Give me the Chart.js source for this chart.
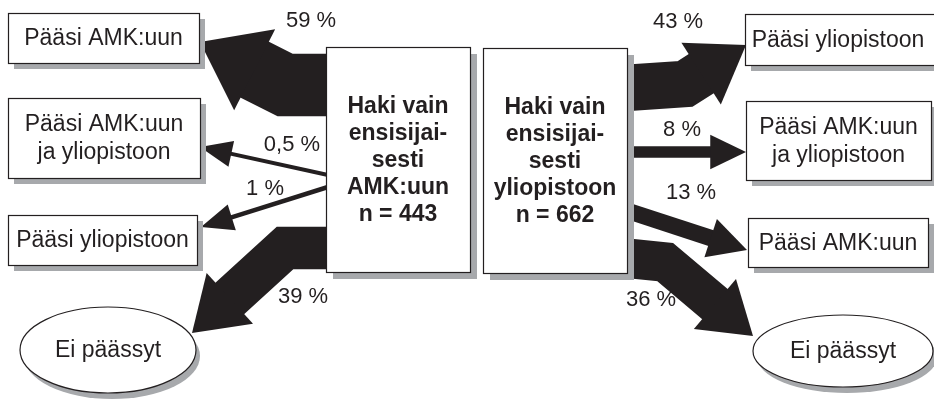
<!DOCTYPE html>
<html>
  <head>
    <script src="https://cdn.jsdelivr.net/npm/chart.js@4/dist/chart.umd.min.js"></script>
    <style>
      body { margin: 0; background: #fff; }
    </style>
  </head>
  <body>
    <canvas id="myChart" width="934" height="406"></canvas>

    <script>
      // Data
      var groups = ["Haki vain\nensisijai-\nsesti\nAMK:uun", "Haki vain\nensisijai-\nsesti\nyliopistoon"];
      var groupN = [443, 662];
      var leftOutcomes = ["Pääsi AMK:uun", "Pääsi AMK:uun\nja yliopistoon", "Pääsi yliopistoon", "Ei päässyt"];
      var leftShares = [59, 0.5, 1, 39];
      var rightOutcomes = ["Pääsi yliopistoon", "Pääsi AMK:uun\nja yliopistoon", "Pääsi AMK:uun", "Ei päässyt"];
      var rightShares = [43, 8, 13, 36];

      // Layout (in axis units, 0..934 x 0..406)
      var groupBoxes = [
        { x1: 326, y1: 47, x2: 470, y2: 272 },
        { x1: 483, y1: 48, x2: 627, y2: 273 },
      ];
      var leftNodes = [
        { x1: 8, y1: 13, x2: 199, y2: 63 },
        { x1: 8, y1: 98, x2: 200, y2: 178 },
        { x1: 8, y1: 215, x2: 197, y2: 265 },
        { cx: 108, cy: 350, rx: 88, ry: 43 },
      ];
      var rightNodes = [
        { x1: 745, y1: 14, x2: 940, y2: 65 },
        { x1: 746, y1: 101, x2: 931, y2: 180 },
        { x1: 748, y1: 218, x2: 928, y2: 267 },
        { cx: 843, cy: 351, rx: 90, ry: 36 },
      ];
      var leftPaths = [
        [[328, 85], [285, 85], [200, 42]],
        [[328, 175], [200, 147]],
        [[328, 187], [201, 227]],
        [[328, 248], [285, 248], [192, 333]],
      ];
      var rightPaths = [
        [[625, 88], [685, 84], [746, 45]],
        [[625, 152], [746, 152]],
        [[625, 210], [747, 250]],
        [[625, 258], [665, 262], [753, 336]],
      ];
      var leftLabelPos = [[311, 21], [292, 145], [265, 189], [303, 297]];
      var rightLabelPos = [[678, 22], [682, 130], [691, 193], [651, 300]];

      var INK = "#231f20";
      var SHADOW = "#a7a9ac";
      var FONT = "'Liberation Sans', Arial, sans-serif";

      function fmtPct(v) {
        return String(v).replace(".", ",") + " %";
      }

      var flowPlugin = {
        id: "flowDiagram",
        beforeDraw: function (chart) {
          var ctx = chart.ctx;
          ctx.save();
          ctx.fillStyle = "#fff";
          ctx.fillRect(0, 0, chart.width, chart.height);
          ctx.restore();
        },
        afterDraw: function (chart) {
          var ctx = chart.ctx;
          var sx = chart.scales.x;
          var sy = chart.scales.y;
          function X(v) { return sx.getPixelForValue(v); }
          function Y(v) { return sy.getPixelForValue(v); }

          // arrow width follows the share
          function arrow(path, pct) {
            var body = 3.5 + pct;
            var headW = body * 1.1 + 22;
            var headLen = 30 + body * 0.5;
            var pts = path.map(function (p) { return [X(p[0]), Y(p[1])]; });
            var tip = pts[pts.length - 1];
            var prev = pts[pts.length - 2];
            var dx = tip[0] - prev[0], dy = tip[1] - prev[1];
            var len = Math.sqrt(dx * dx + dy * dy);
            var ux = dx / len, uy = dy / len;
            var bx = tip[0] - ux * headLen, by = tip[1] - uy * headLen;
            ctx.save();
            ctx.strokeStyle = INK;
            ctx.fillStyle = INK;
            ctx.lineWidth = body;
            ctx.lineJoin = "miter";
            ctx.lineCap = "butt";
            ctx.beginPath();
            ctx.moveTo(pts[0][0], pts[0][1]);
            for (var i = 1; i < pts.length - 1; i++) ctx.lineTo(pts[i][0], pts[i][1]);
            ctx.lineTo(bx + ux * 2, by + uy * 2);
            ctx.stroke();
            var px = -uy, py = ux;
            ctx.beginPath();
            ctx.moveTo(tip[0], tip[1]);
            ctx.lineTo(bx + px * headW / 2, by + py * headW / 2);
            ctx.lineTo(bx - px * headW / 2, by - py * headW / 2);
            ctx.closePath();
            ctx.fill();
            ctx.restore();
          }

          function textLines(lines, cx, cy, size, bold, lh) {
            ctx.save();
            ctx.fillStyle = INK;
            ctx.font = (bold ? "bold " : "") + size + "px " + FONT;
            ctx.textAlign = "center";
            ctx.textBaseline = "middle";
            var top = cy - (lines.length - 1) * lh / 2;
            lines.forEach(function (t, i) {
              ctx.fillText(t, cx, top + i * lh);
            });
            ctx.restore();
          }

          function node(n, label, shadow, size, bold, lh) {
            ctx.save();
            if (n.rx) {
              var cx = X(n.cx), cy = Y(n.cy);
              ctx.fillStyle = SHADOW;
              ctx.beginPath();
              ctx.ellipse(cx + 4, cy + 6, n.rx, n.ry, 0, 0, Math.PI * 2);
              ctx.fill();
              ctx.fillStyle = "#fff";
              ctx.strokeStyle = INK;
              ctx.lineWidth = 1.2;
              ctx.beginPath();
              ctx.ellipse(cx, cy, n.rx, n.ry, 0, 0, Math.PI * 2);
              ctx.fill();
              ctx.stroke();
              ctx.restore();
              textLines(label.split("\n"), cx, cy + 1, size, bold, lh);
              return;
            }
            var x1 = X(n.x1), y1 = Y(n.y1), x2 = X(n.x2), y2 = Y(n.y2);
            ctx.fillStyle = SHADOW;
            ctx.fillRect(x1 + shadow, y1 + shadow, x2 - x1, y2 - y1);
            ctx.fillStyle = "#fff";
            ctx.fillRect(x1, y1, x2 - x1, y2 - y1);
            ctx.strokeStyle = INK;
            ctx.lineWidth = 1.2;
            ctx.strokeRect(x1 + 0.5, y1 + 0.5, x2 - x1, y2 - y1);
            ctx.restore();
            var tx = n.x2 > 934 ? (x1 + X(931)) / 2 : (x1 + x2) / 2;
            textLines(label.split("\n"), tx, (y1 + y2) / 2 + 1, size, bold, lh);
          }

          // Arrows first, boxes on top
          leftShares.forEach(function (v, i) { arrow(leftPaths[i], v); });
          rightShares.forEach(function (v, i) { arrow(rightPaths[i], v); });

          groups.forEach(function (g, i) {
            node(groupBoxes[i], g + "\nn = " + groupN[i], 7, 23, true, 27);
          });
          leftOutcomes.forEach(function (o, i) { node(leftNodes[i], o, 6, 23, false, 28); });
          rightOutcomes.forEach(function (o, i) { node(rightNodes[i], o, 6, 23, false, 28); });

          // Percentage labels
          leftShares.forEach(function (v, i) {
            textLines([fmtPct(v)], X(leftLabelPos[i][0]), Y(leftLabelPos[i][1]), 22, false, 0);
          });
          rightShares.forEach(function (v, i) {
            textLines([fmtPct(v)], X(rightLabelPos[i][0]), Y(rightLabelPos[i][1]), 22, false, 0);
          });
        },
      };

      var ctx = document.getElementById("myChart").getContext("2d");
      var myChart = new Chart(ctx, {
        type: "scatter",
        data: { datasets: [] },
        options: {
          responsive: false,
          animation: false,
          layout: { padding: 0 },
          plugins: { legend: { display: false }, tooltip: { enabled: false } },
          scales: {
            x: { type: "linear", min: 0, max: 934, display: false },
            y: { type: "linear", min: 0, max: 406, reverse: true, display: false },
          },
        },
        plugins: [flowPlugin],
      });
    </script>
  </body>
</html>
